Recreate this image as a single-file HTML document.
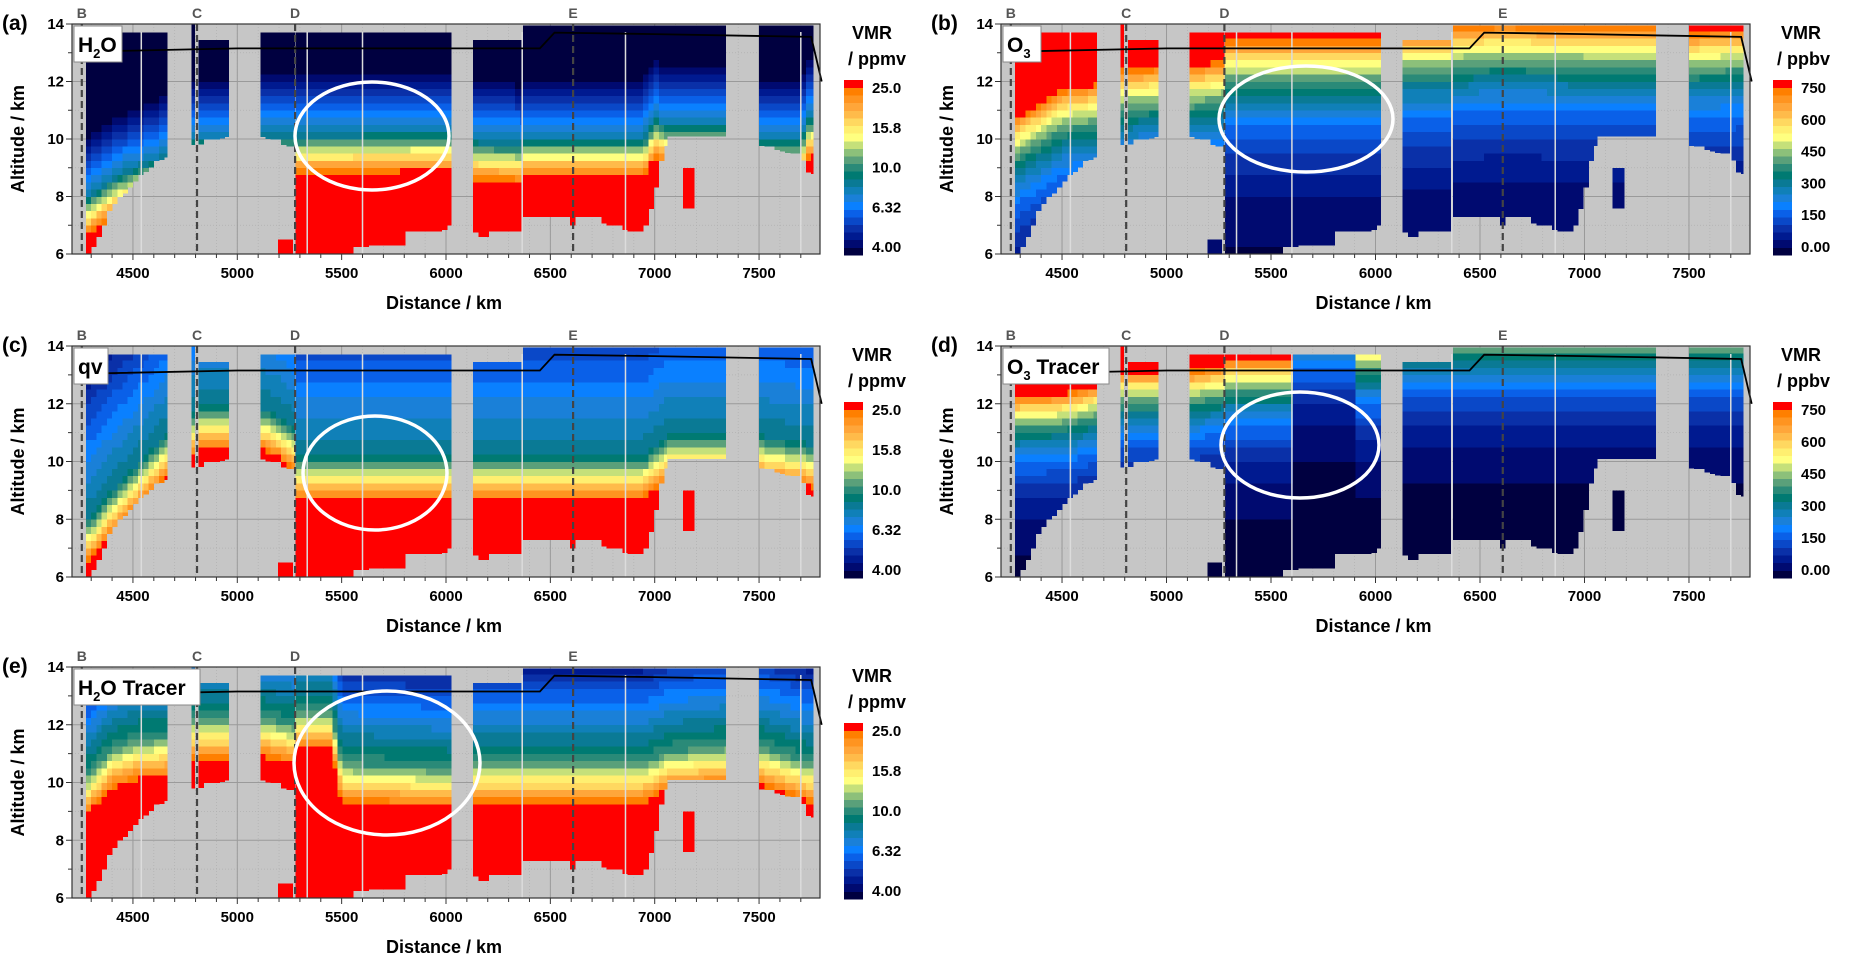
<!DOCTYPE html>
<html><head><meta charset="utf-8">
<style>
html,body{margin:0;padding:0;background:#fff;}
svg{display:block;font-family:"Liberation Sans",sans-serif;}
</style></head>
<body>
<svg id="fig" width="1863" height="976" viewBox="0 0 1863 976" xmlns="http://www.w3.org/2000/svg">
<rect x="0" y="0" width="1863" height="976" fill="#fff"/>
</svg>
<script>
// ---- shared data coverage (distance km, altitude km) ----
const segStart = [4275, 4780, 4815, 5110, 5195, 5280, 6130, 6370, 7060, 7135, 7500];
const segEnd   = [4665, 4795, 4960, 5275, 5265, 6025, 6365, 7060, 7340, 7190, 7760];
const segTop   = [13.7, 14.0, 13.45, 13.7, 6.6, 13.7, 13.45, 13.95, 13.95, 9.0, 13.95];
const segBotD = [
 [4275,4300,4400,4520,4600,4665],
 [4780,4795],
 [4815,4960],
 [5110,5200,5275],
 [5195,5265],
 [5280,5560,5570,5610,5620,5800,5810,5990,6000,6025],
 [6130,6160,6200,6210,6365],
 [6370,6600,6610,6625,6750,6760,6850,6860,6950,6980,7010,7040,7060],
 [7060,7340],
 [7135,7190],
 [7500,7600,7700,7705,7740,7760]
];
const segBotZ = [
 [6.0,6.0,7.6,8.6,9.1,9.4],
 [9.8,9.8],
 [9.8,10.1],
 [10.1,9.9,9.6],
 [6.0,6.0],
 [6.0,6.0,6.2,6.1,6.3,6.3,6.8,6.8,7.0,7.0],
 [6.8,6.6,6.6,6.8,6.8],
 [7.3,7.3,6.8,7.3,7.3,7.0,7.0,6.8,6.8,7.5,8.4,9.4,10.0],
 [10.1,10.1],
 [7.6,7.6],
 [9.8,9.6,9.4,9.4,8.8,8.8]
];
// ---- per-panel field levels ----
const aMoistD = [4275,4400,4520,4665,4780,4960,5110,5275,5280,6025,6130,6365,6370,6950,7000,7060,7340,7500,7700,7740,7760];
const aMoistZ = [6.5,7.2,7.6,8.0,8.6,8.6,8.7,8.7,8.7,8.8,8.5,8.4,8.6,8.6,9.3,9.0,9.0,8.5,8.5,9.3,9.3];
const cMoistD = [4275,4400,4520,4665,4780,4815,4960,5110,5200,5275,5280,6025,6130,6950,7060,7340,7500,7740,7760];
const cMoistZ = [6.3,7.4,8.3,9.4,10.0,10.3,10.3,10.3,10.0,9.5,8.6,8.6,8.6,8.6,9.3,9.3,9.3,9.0,9.0];
const eMoistD = [4275,4400,4520,4665,4780,4960,5110,5275,5280,5450,5500,6025,6130,6950,7060,7340,7500,7740,7760];
const eMoistZ = [8.7,9.7,10.0,10.1,10.7,10.7,10.8,10.5,11.0,11.0,9.2,9.0,9.2,9.2,9.6,9.8,9.8,9.2,9.2];
const bTopD = [4275,4500,4665,4780,4960,5110,5275,5280,6025,6130,6365,6370,6600,7060,7340,7500,7760];
const bTopZ = [10.8,11.8,12.0,12.5,12.6,12.6,12.8,13.5,13.5,13.8,13.8,14.0,14.1,14.0,14.0,13.8,13.9];
const dTopD = [4275,4500,4665,4780,4960,5110,5275,5280,5600,5610,5900,5910,6025,6130,7760];
const dTopZ = [12.3,12.4,12.7,13.2,13.2,13.2,13.4,13.6,13.6,15.6,15.6,14.3,14.3,15.0,15.0];
const tropD = [4260,4330,4340,5000,6450,6520,7000,7750,7800];
const tropZ = [12.75,12.75,13.05,13.15,13.15,13.7,13.65,13.55,12.0];
const markerNames = ['B','C','D','E'];
const markerD = [4255,4807,5277,6609];
const gapD = [4540,5335,5600,6365,6860,7700];
const xTicks = [4500,5000,5500,6000,6500,7000,7500];
const yTicks = [6,8,10,12,14];
const h2oLabels = ['25.0','15.8','10.0','6.32','4.00'];
const o3Labels = ['750','600','450','300','150','0.00'];
const cmap = ['#000040','#000a70','#001a90','#0a30a8','#0a48c8','#0a60e8','#0a80ff','#1a80d8','#1080b8','#0a7a95','#007a72','#2a8a78','#5aa07a','#8cc07a','#c5e07a','#ffff80','#ffef70','#ffd860','#ffbb4a','#ffa63a','#ff9420','#ff7f00','#ff0000'];

const NS='http://www.w3.org/2000/svg';
const fig=document.getElementById('fig');
function mk(tag,attrs,parent){const e=document.createElementNS(NS,tag);for(const k in attrs)e.setAttribute(k,attrs[k]);(parent||fig).appendChild(e);return e;}
function interp(xs,ys,x){if(x<=xs[0])return ys[0];for(let i=1;i<xs.length;i++){if(x<=xs[i]){const t=(x-xs[i-1])/((xs[i]-xs[i-1])||1);return ys[i-1]+t*(ys[i]-ys[i-1]);}}return ys[ys.length-1];}
const D0=4208,D1=7792,Z0=6,Z1=14;

const panels=[
 {id:'a',L:72,T:24,W:748,H:230,kind:'h2o',mD:aMoistD,mZ:aMoistZ,r1:0.75,knee:1.5,r2:0.32,label:'(a)',leg:'H2O',lw:48},
 {id:'b',L:1001,T:24,W:749,H:230,kind:'o3',mD:bTopD,mZ:bTopZ,h:2.3,label:'(b)',leg:'O3',lw:38},
 {id:'c',L:72,T:346,W:748,H:231,kind:'h2o',mD:cMoistD,mZ:cMoistZ,r1:0.65,knee:1.6,r2:0.12,label:'(c)',leg:'qv',lw:34},
 {id:'d',L:1001,T:346,W:749,H:231,kind:'o3',mD:dTopD,mZ:dTopZ,h:1.8,label:'(d)',leg:'O3 Tracer',lw:106},
 {id:'e',L:72,T:667,W:748,H:231,kind:'h2o',mD:eMoistD,mZ:eMoistZ,r1:0.6,knee:1.5,r2:0.22,label:'(e)',leg:'H2O Tracer',lw:126}
];
const ellipses={a:[372,136,77,54],b:[1306,119,87,53],c:[375,473,72,57],d:[1300,445,79,53],e:[387,763,93,72]};

panels.forEach(p=>{
 const g=mk('g',{});
 
 
 const X=d=>p.L+(d-D0)/(D1-D0)*p.W;
 const Y=z=>p.T+p.H-(z-Z0)/(Z1-Z0)*p.H;
 const bg=mk('rect',{x:p.L,y:p.T,width:p.W,height:p.H,fill:'#c6c6c6'},g);
 
 
 for(let d=4300;d<7800;d+=100){mk('line',{x1:X(d),x2:X(d),y1:p.T,y2:p.T+p.H,stroke:'#b0b0b0','stroke-width':0.7,'stroke-dasharray':'1,2'},g);}
 for(let z=7;z<14;z+=2){mk('line',{x1:p.L,x2:p.L+p.W,y1:Y(z),y2:Y(z),stroke:'#b0b0b0','stroke-width':0.7,'stroke-dasharray':'1,2'},g);}
 xTicks.forEach(d=>{mk('line',{x1:X(d),x2:X(d),y1:p.T,y2:p.T+p.H,stroke:'#9a9a9a','stroke-width':1},g);});
 yTicks.forEach(z=>{mk('line',{x1:p.L,x2:p.L+p.W,y1:Y(z),y2:Y(z),stroke:'#9a9a9a','stroke-width':1},g);});
 const hm=mk('g',{'shape-rendering':'crispEdges'},g);
 
 
 for(let s=0;s<segStart.length;s++){
  for(let d=segStart[s];d<segEnd[s];d+=25){
   const d2=Math.min(d+25,segEnd[s]);const dm=(d+d2)/2;
   const bot=interp(segBotD[s],segBotZ[s],dm);
   const lvl=interp(p.mD,p.mZ,dm);
   for(let z=6;z<14;z+=0.25){
    const zm=z+0.125;
    if(zm<bot||zm>segTop[s])continue;
    let f;
    if(p.kind==='h2o'){
     const dz=Math.max(0,zm-lvl);
     const lv=Math.log(25)-Math.min(dz,p.knee)*p.r1-Math.max(0,dz-p.knee)*p.r2;
     f=(lv-Math.log(4))/(Math.log(25)-Math.log(4));
    }else{
     const v=750*Math.exp(-Math.max(0,lvl-zm)/p.h);
     f=v/750;
    }
    f=Math.max(0,Math.min(1,f));
    const idx=Math.min(cmap.length-1,Math.floor(f*cmap.length));
    const y0=Y(Math.min(z+0.25,segTop[s])),y1=Y(Math.max(z,bot));
    const r=mk('rect',{x:X(d).toFixed(2),y:y0.toFixed(2),width:(X(d2)-X(d)+0.3).toFixed(2),height:(y1-y0+0.3).toFixed(2),fill:cmap[idx]},hm);
    
    
   }
  }
 }
 gapD.forEach(d=>{const ln=mk('line',{x1:X(d),x2:X(d),y1:p.T+8,y2:p.T+p.H,stroke:'#dcdcdc','stroke-width':1.5},g);
  });
 markerD.forEach((d,i)=>{
  const ln=mk('line',{x1:X(d),x2:X(d),y1:p.T,y2:p.T+p.H,stroke:'#444','stroke-width':2.2,'stroke-dasharray':'7,4'},g);
  
  const t=mk('text',{x:X(d),y:p.T-6,'text-anchor':'middle','font-size':14,'font-weight':'bold',fill:'#555'},g);
  t.textContent=markerNames[i];
  
 });
 let pts=tropD.map((d,i)=>X(d).toFixed(1)+','+Y(tropZ[i]).toFixed(1)).join(' ');
 const tp=mk('polyline',{points:pts,fill:'none',stroke:'#000','stroke-width':1.8},g);
 
 const e=ellipses[p.id];
 const el=mk('ellipse',{cx:e[0],cy:e[1],rx:e[2],ry:e[3],fill:'none',stroke:'#fff','stroke-width':3.5},g);
 
 const fr=mk('rect',{x:p.L,y:p.T,width:p.W,height:p.H,fill:'none',stroke:'#333','stroke-width':1.2},g);
 
 for(let d=4300;d<7800;d+=100){const maj=d%500===0;mk('line',{x1:X(d),x2:X(d),y1:p.T+p.H,y2:p.T+p.H+(maj?6:4),stroke:'#333','stroke-width':1},g);}
 for(let z=6;z<=14;z+=1){mk('line',{x1:p.L-(z%2===0?6:4),x2:p.L,y1:Y(z),y2:Y(z),stroke:'#333','stroke-width':1},g);}
 xTicks.forEach(d=>{const t=mk('text',{x:X(d),y:p.T+p.H+24,'text-anchor':'middle','font-size':15,'font-weight':'bold',fill:'#000'},g);t.textContent=d;
  });
 yTicks.forEach(z=>{const t=mk('text',{x:p.L-8,y:Y(z)+5,'text-anchor':'end','font-size':15,'font-weight':'bold',fill:'#000'},g);t.textContent=z;
  });
 const xt=mk('text',{x:p.L+p.W/2-2,y:p.T+p.H+55,'text-anchor':'middle','font-size':18,'font-weight':'bold',fill:'#000'},g);xt.textContent='Distance / km';
 
 const cy=p.T+p.H/2;
 const yt=mk('text',{x:p.L-48,y:cy,'text-anchor':'middle','font-size':18,'font-weight':'bold',fill:'#000',transform:'rotate(-90 '+(p.L-48)+' '+cy+')'},g);yt.textContent='Altitude / km';
 
 const pl=mk('text',{x:p.L-70,y:p.T+6,'font-size':21,'font-weight':'bold',fill:'#000'},g);pl.textContent=p.label;
 
 const lb=mk('rect',{x:p.L+2,y:p.T+2,width:p.lw,height:36,fill:'#fff',stroke:'#888','stroke-width':1},g);
 
 const lt=mk('text',{x:p.L+6,y:p.T+28,'font-size':21,'font-weight':'bold',fill:'#000'},g);
 
 const base=p.leg.slice(0,1);
 if(p.leg.startsWith('H2O')||p.leg.startsWith('O3')){
  const t1=mk('tspan',{},lt);t1.textContent=base;
  const t2=mk('tspan',{'font-size':13,dy:6},lt);t2.textContent=p.leg.startsWith('H2O')?'2':'3';
  if(p.leg.startsWith('H2O')){const t3=mk('tspan',{dy:-6},lt);t3.textContent='O'+p.leg.slice(3);}
  else{const t3=mk('tspan',{dy:-6},lt);t3.textContent=p.leg.slice(2);}
 } else lt.textContent=p.leg;
 const cbx=p.L+772,cbTop=p.T+56,cbBot=p.T+p.H+1;
 const cb=mk('g',{'shape-rendering':'crispEdges'},g);
 
 const bh=(cbBot-cbTop)/cmap.length;
 cmap.forEach((c,i)=>{const r=mk('rect',{x:cbx,y:(cbBot-(i+1)*bh).toFixed(2),width:19,height:(bh+0.4).toFixed(2),fill:c},cb);
  });
 const labs=p.kind==='h2o'?h2oLabels:o3Labels;
 labs.forEach((s,i)=>{const yy=cbTop+8+i*(cbBot-cbTop-16)/(labs.length-1);
  const t=mk('text',{x:cbx+28,y:yy+5,'font-size':15,'font-weight':'bold',fill:'#000'},g);t.textContent=s;
  });
 const v1=mk('text',{x:cbx+8,y:p.T+15,'font-size':18,'font-weight':'bold',fill:'#000'},g);v1.textContent='VMR';
 
 const v2=mk('text',{x:cbx+4,y:p.T+41,'font-size':18,'font-weight':'bold',fill:'#000'},g);v2.textContent=p.kind==='h2o'?'/ ppmv':'/ ppbv';
 
});
</script>
</body></html>
